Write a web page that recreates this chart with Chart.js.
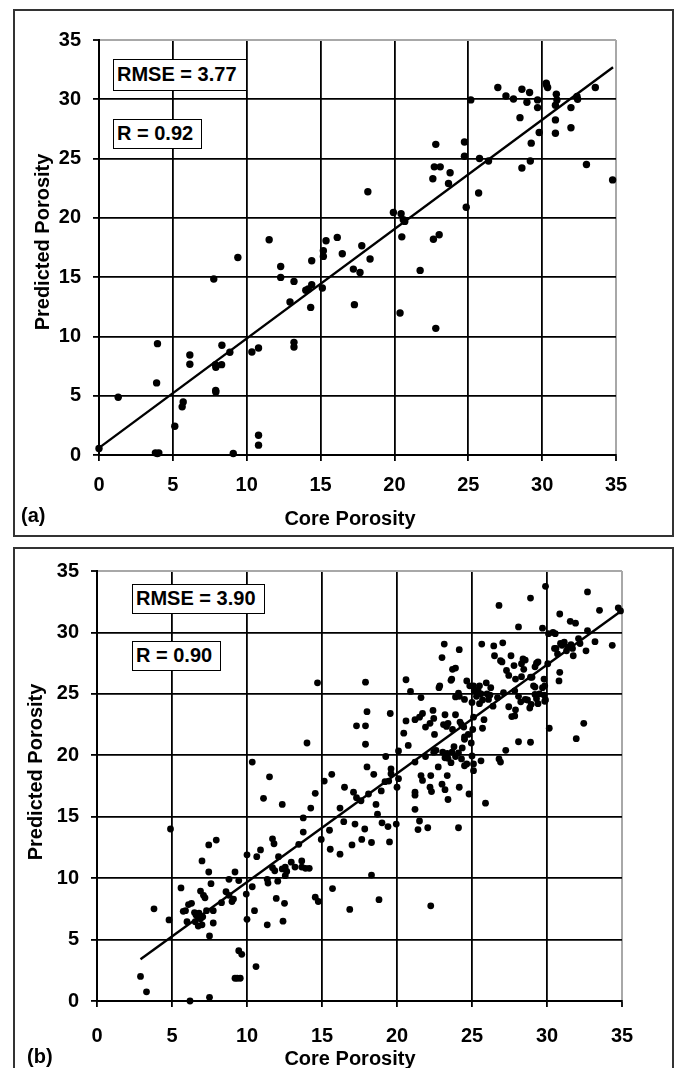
<!DOCTYPE html>
<html>
<head>
<meta charset="utf-8">
<script src="https://cdn.jsdelivr.net/npm/chart.js@4.4.1/dist/chart.umd.min.js"></script>
<style>
  html, body { margin: 0; padding: 0; background: #fff; }
  body { width: 680px; height: 1068px; position: relative; overflow: hidden;
         font-family: "Liberation Sans", Arial, sans-serif; color: #000; }
  canvas { position: absolute; left: 13px; }
  #chartA { top: 9px; }
  #chartB { top: 547px; }
  .frame { position: absolute; left: 13px; width: 661px; box-sizing: border-box;
           border: 2px solid #333; pointer-events: none; }
  .note { position: absolute; box-sizing: border-box; border: 1.5px solid #000; background: #fff;
          font-weight: bold; font-size: 20px; padding-left: 3px; white-space: nowrap; }
  .lbl { position: absolute; font-weight: bold; font-size: 20px; line-height: 20px; white-space: nowrap; }
  .xt { width: 200px; text-align: center; }
  .yt { width: 240px; height: 24px; line-height: 24px; text-align: center; transform: rotate(-90deg); }
</style>
</head>
<body>
<canvas id="chartA" width="661" height="528"></canvas>
<canvas id="chartB" width="661" height="521"></canvas>

<div class="frame" style="top:9px;height:528px"></div>
<div class="frame" style="top:547px;height:540px"></div>

<div class="note" style="left:113px;top:59px;width:134px;height:32px;line-height:29px">RMSE = 3.77</div>
<div class="note" style="left:113px;top:119px;width:89px;height:30px;line-height:27px">R = 0.92</div>
<div class="note" style="left:132px;top:584px;width:133px;height:30px;line-height:27px">RMSE = 3.90</div>
<div class="note" style="left:132px;top:641px;width:89px;height:30px;line-height:27px">R = 0.90</div>

<div class="lbl yt" style="left:-78px;top:230px">Predicted Porosity</div>
<div class="lbl yt" style="left:-85px;top:760px">Predicted Porosity</div>
<div class="lbl xt" style="left:250px;top:508px">Core Porosity</div>
<div class="lbl xt" style="left:250px;top:1048px">Core Porosity</div>
<div class="lbl" style="left:21px;top:505px">(a)</div>
<div class="lbl" style="left:27px;top:1046px">(b)</div>

<script>
// ---- axis ----
const AXIS_TICKS = [0, 5, 10, 15, 20, 25, 30, 35];
const AXIS_MAX = 35;

// ---- panel (a) ----
const coreA = [0.0, 1.3, 3.9, 3.96, 3.82, 4.05, 3.95, 5.13, 5.7, 5.63,
  6.15, 6.15, 7.77, 7.89, 7.91, 8.3, 7.91, 7.9, 8.32, 8.86,
  9.09, 9.4, 10.35, 10.8, 10.8, 10.8, 11.52, 12.3, 12.3, 12.93,
  13.2, 13.2, 13.2, 14.0, 14.17, 14.4, 14.33, 14.4, 15.12, 15.19,
  15.19, 15.37, 16.13, 16.47, 17.29, 17.22, 17.67, 17.79, 18.2, 18.35,
  19.93, 20.38, 20.45, 20.6, 20.5, 20.7, 21.74, 22.6, 22.7, 22.64,
  22.8, 22.8, 23.03, 23.1, 23.66, 23.77, 24.74, 24.74, 24.86, 25.17,
  25.7, 25.76, 26.37, 27.0, 27.55, 28.06, 28.5, 28.63, 28.63, 28.97,
  29.15, 29.2, 29.26, 29.69, 29.69, 29.8, 30.28, 30.37, 30.3, 30.9,
  30.9, 30.9, 30.96, 31.0, 31.95, 31.95, 32.36, 32.4, 33.0, 33.6,
  34.77];
const predA = [0.55, 4.87, 6.08, 9.39, 0.18, 0.18, 0.12, 2.43, 4.48, 4.06,
  8.44, 7.65, 14.84, 7.62, 7.4, 7.62, 5.32, 5.45, 9.25, 8.66,
  0.13, 16.66, 8.69, 9.03, 1.67, 0.83, 18.15, 15.9, 14.98, 12.9,
  14.64, 9.5, 9.1, 13.9, 14.0, 14.36, 12.45, 16.38, 14.08, 17.22,
  16.75, 18.07, 18.35, 16.97, 12.68, 15.68, 15.4, 17.65, 22.2, 16.53,
  20.45, 11.98, 20.35, 19.84, 18.4, 19.7, 15.57, 23.3, 24.3, 18.2,
  26.2, 10.68, 18.57, 24.3, 22.9, 23.8, 26.4, 25.2, 20.9, 29.95,
  22.1, 25.0, 24.8, 31.0, 30.28, 30.03, 28.45, 30.85, 24.2, 29.75,
  30.57, 24.8, 26.3, 29.95, 29.3, 27.2, 31.35, 31.0, 31.2, 28.26,
  27.14, 29.5, 30.43, 29.95, 29.3, 27.6, 30.23, 30.0, 24.5, 31.0,
  23.2];
const fitAx = [0, 34.8];
const fitAy = [0.6, 32.7];

// ---- panel (b) ----
const coreB = [2.9, 3.3, 3.8, 4.8, 4.9, 5.6, 5.75, 5.9, 6.0, 6.1,
  6.3, 6.2, 6.5, 6.55, 6.6, 6.75, 6.8, 6.9, 6.9, 7.0,
  7.0, 7.05, 7.1, 7.2, 7.3, 7.45, 7.95, 7.45, 7.5, 7.5,
  7.6, 7.75, 7.75, 8.3, 8.6, 8.8, 8.8, 9.0, 9.1, 9.2,
  9.45, 9.2, 9.35, 9.55, 9.45, 9.65, 9.95, 10.0, 10.0, 10.35,
  10.35, 10.5, 10.6, 10.65, 10.9, 11.1, 11.35, 11.35, 11.4, 11.5,
  11.7, 11.8, 11.7, 11.85, 11.95, 12.05, 12.1, 12.35, 12.35, 12.4,
  12.5, 12.55, 12.65, 12.55, 12.95, 13.2, 13.45, 13.65, 13.65, 13.9,
  14.15, 13.75, 13.75, 14.0, 14.25, 14.55, 14.55, 14.75, 14.7, 14.95,
  15.15, 15.5, 15.55, 15.65, 15.7, 16.2, 16.2, 16.45, 16.5, 16.85,
  17.0, 17.1, 17.2, 17.3, 17.3, 17.6, 17.65, 17.9, 17.9, 17.9,
  18.0, 18.0, 18.1, 17.85, 18.3, 18.3, 18.45, 18.6, 18.7, 18.8,
  18.95, 19.0, 19.2, 19.25, 19.4, 19.45, 19.55, 19.6, 19.6, 19.5,
  19.95, 20.0, 20.1, 20.1, 20.45, 20.6, 20.6, 20.75, 20.9, 21.2,
  21.2, 21.2, 21.2, 21.2, 21.4, 21.5, 21.5, 21.6, 21.7, 21.6,
  21.7, 21.9, 21.9, 22.05, 22.2, 22.3, 22.25, 22.25, 22.2, 22.4,
  22.45, 22.5, 22.45, 22.6, 22.75, 22.8, 22.85, 23.0, 23.2, 23.0,
  23.15, 23.2, 23.1, 23.4, 23.3, 23.05, 23.35, 23.4, 23.2, 23.35,
  23.4, 23.6, 23.7, 23.65, 23.7, 23.67, 23.6, 23.8, 23.9, 23.9,
  23.9, 23.9, 24.1, 24.1, 24.15, 24.15, 24.15, 24.2, 24.3, 24.45,
  24.5, 24.5, 24.5, 24.35, 24.1, 24.3, 24.5, 24.65, 24.65, 24.8,
  24.75, 24.85, 24.95, 25.0, 25.05, 25.1, 25.15, 25.1, 25.1, 25.0,
  25.1, 25.3, 25.4, 25.5, 25.6, 25.7, 25.5, 25.65, 25.6, 25.7,
  25.8, 25.9, 25.95, 26.1, 26.25, 26.0, 26.2, 26.4, 26.45, 26.5,
  26.7, 26.8, 26.9, 26.8, 26.9, 27.0, 27.05, 27.1, 27.25, 27.3,
  27.45, 27.45, 27.6, 27.65, 27.8, 27.9, 27.9, 27.85, 27.85, 28.1,
  28.1, 28.1, 28.25, 28.3, 28.3, 28.4, 28.45, 28.55, 28.55, 28.7,
  28.85, 28.9, 28.9, 28.9, 28.95, 29.0, 29.1, 29.2, 29.2, 29.2,
  29.3, 29.3, 29.4, 29.4, 29.5, 29.7, 29.7, 29.8, 29.8, 29.85,
  29.85, 29.9, 29.9, 30.05, 30.1, 30.15, 30.4, 30.5, 30.55, 30.7,
  30.8, 30.85, 30.85, 30.6, 30.9, 31.0, 31.15, 31.3, 31.4, 31.55,
  31.7, 31.6, 31.9, 31.75, 31.95, 32.1, 32.2, 32.45, 32.6, 32.7,
  32.7, 33.2, 33.5, 34.35, 34.75, 34.9];
const predB = [2.0, 0.75, 7.5, 6.6, 14.0, 9.2, 7.3, 7.35, 6.45, 7.85,
  7.95, 0.0, 7.2, 6.45, 7.0, 6.1, 7.15, 6.7, 8.95, 11.4,
  6.2, 6.85, 8.6, 8.4, 7.35, 12.7, 13.1, 10.5, 0.3, 5.3,
  9.55, 6.35, 7.35, 8.0, 8.9, 9.9, 8.6, 8.1, 8.3, 10.5,
  9.8, 1.85, 1.85, 1.85, 4.1, 3.8, 8.7, 11.9, 6.65, 19.45,
  9.3, 7.35, 2.8, 11.75, 12.3, 16.5, 6.2, 9.9, 9.6, 18.25,
  13.2, 12.8, 10.85, 10.6, 8.35, 9.75, 11.75, 16.0, 10.75, 6.5,
  7.95, 10.9, 10.55, 10.2, 11.3, 10.9, 12.75, 11.4, 10.9, 10.8,
  10.8, 13.75, 14.9, 21.0, 15.7, 16.9, 8.45, 8.1, 25.9, 13.15,
  17.9, 13.9, 12.35, 18.45, 9.15, 11.95, 15.7, 14.6, 17.4, 7.45,
  12.7, 17.0, 14.4, 16.55, 22.4, 16.3, 13.15, 22.4, 20.9, 25.95,
  23.55, 19.05, 16.85, 14.0, 10.25, 12.9, 18.45, 16.0, 15.2, 8.25,
  17.1, 14.5, 17.85, 19.9, 14.2, 17.9, 23.4, 18.9, 18.5, 12.95,
  14.4, 17.4, 20.35, 18.1, 21.8, 26.15, 22.8, 20.8, 25.2, 19.45,
  17.0, 16.75, 15.6, 22.9, 13.95, 14.65, 23.1, 24.7, 23.4, 18.35,
  17.95, 22.3, 19.9, 14.1, 17.4, 17.05, 18.35, 7.75, 22.6, 23.65,
  23.0, 21.7, 20.25, 20.4, 19.05, 25.5, 25.65, 17.65, 17.2, 27.95,
  29.05, 23.3, 22.5, 22.6, 22.35, 20.25, 20.15, 19.75, 19.8, 18.35,
  16.4, 26.1, 27.0, 26.2, 22.1, 20.25, 19.4, 20.7, 27.1, 19.9,
  24.75, 23.3, 25.05, 14.1, 24.8, 17.4, 28.6, 22.7, 22.5, 22.3,
  21.5, 24.55, 21.3, 20.6, 20.2, 19.7, 19.15, 26.05, 19.3, 16.85,
  21.7, 25.65, 21.0, 24.3, 22.1, 25.65, 25.25, 23.1, 18.75, 19.95,
  19.3, 24.8, 25.3, 25.65, 25.0, 24.5, 24.2, 29.05, 19.55, 22.2,
  22.9, 16.1, 25.9, 24.55, 25.5, 25.0, 24.9, 24.0, 28.9, 28.1,
  24.7, 19.7, 19.45, 32.2, 27.7, 27.6, 29.15, 25.1, 20.4, 26.9,
  26.5, 23.95, 28.1, 23.15, 27.3, 23.7, 26.2, 23.2, 25.25, 30.45,
  21.1, 24.8, 24.35, 26.4, 27.45, 27.85, 27.0, 27.75, 24.55, 24.5,
  23.85, 32.8, 26.35, 21.06, 24.15, 26.35, 25.65, 24.95, 27.2, 25.55,
  27.5, 24.6, 24.2, 27.6, 25.0, 30.35, 25.5, 26.2, 24.9, 25.65,
  24.4, 33.75, 24.5, 27.45, 29.9, 22.2, 30.0, 28.7, 29.9, 28.25,
  26.05, 26.75, 31.5, 28.7, 29.1, 28.95, 29.2, 28.5, 28.8, 30.9,
  28.7, 29.0, 30.75, 28.1, 21.35, 29.5, 29.1, 22.6, 28.5, 30.15,
  33.3, 29.25, 31.8, 28.95, 32.0, 31.75];
const fitBx = [2.9, 34.9];
const fitBy = [3.4, 31.7];

const TICK_FONT = { family: '"Liberation Sans", Arial, sans-serif', size: 20, weight: 'bold' };

function axis(fit, tickPad) {
  const edge = (c) => c.tick && c.tick.value === AXIS_MAX;
  return {
    type: 'linear', min: 0, max: AXIS_MAX,
    afterBuildTicks: (s) => { s.ticks = AXIS_TICKS.map((v) => ({ value: v })); },
    afterFit: fit,
    ticks: { font: TICK_FONT, color: '#000', padding: tickPad, maxRotation: 0 },
    grid: {
      color: (c) => (edge(c) ? '#a8a8a8' : '#000'),
      lineWidth: (c) => (edge(c) ? 2 : 1.8),
      tickLength: 6, tickColor: '#000', tickWidth: 1.8,
    },
    border: { color: '#000', width: 2 },
  };
}

function drawPanel(id, core, pred, fitX, fitY, f) {
  const points = core.map((x, i) => ({ x, y: pred[i] }));
  const line = fitX.map((x, i) => ({ x, y: fitY[i] }));
  return new Chart(document.getElementById(id), {
    type: 'scatter',
    data: {
      datasets: [
        { data: points, pointRadius: f.dot, pointBackgroundColor: '#000', pointBorderWidth: 0, clip: false },
        { data: line, showLine: true, borderColor: '#000', borderWidth: 2.4, pointRadius: 0, clip: false },
      ],
    },
    options: {
      responsive: false, animation: false, events: [],
      layout: { padding: { left: 0, top: f.top, right: f.right, bottom: 0 } },
      plugins: { legend: { display: false }, tooltip: { enabled: false } },
      scales: {
        x: axis((s) => { s.height = f.xh; }, f.xpad),
        y: axis((s) => { s.width = f.yw; }, f.ypad),
      },
    },
  });
}

drawPanel('chartA', coreA, predA, fitAx, fitAy, { top: 31, right: 58, yw: 86, xh: 82, xpad: 12, ypad: 12, dot: 3.7 });
drawPanel('chartB', coreB, predB, fitBx, fitBy, { top: 16, right: 52, yw: 84, xh: 67, xpad: 17, ypad: 12, dot: 3.4 });
</script>
</body>
</html>
